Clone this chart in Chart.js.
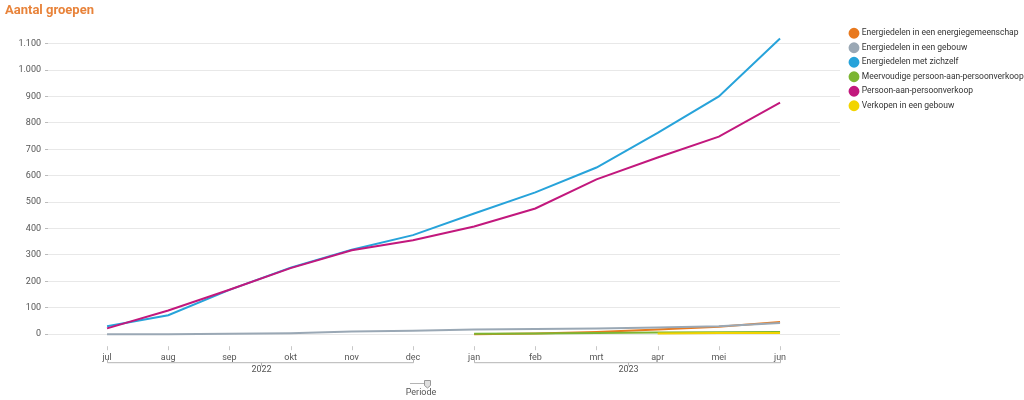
<!DOCTYPE html>
<html>
<head>
<meta charset="utf-8">
<script src="https://cdn.jsdelivr.net/npm/chart.js@4.4.1/dist/chart.umd.min.js"></script>
<style>
  html, body { margin: 0; padding: 0; background: #fff; }
  #wrap { width: 1024px; height: 400px; position: relative; }
</style>
</head>
<body>
<div id="wrap"><canvas id="groupChart"></canvas></div>
<script>
// months jul 2022 .. jun 2023
const months = ['jul', 'aug', 'sep', 'okt', 'nov', 'dec', 'jan', 'feb', 'mrt', 'apr', 'mei', 'jun'];
const years = ['2022', '2023'];
const yearStart = [0, 6];
const yearEnd = [5, 11];

const gemeenschap = [null, null, null, null, null, null, 0, 3, 8, 18, 28, 46];
const gebouw = [0, 0, 2, 4, 10, 13, 18, 20, 22, 25, 30, 42];
const zichzelf = [30, 72, 168, 252, 320, 375, 457, 537, 631, 762, 900, 1119];
const meervoudig = [null, null, null, null, null, null, 2, 3, 5, 6, 7, 8];
const persoon = [22, 90, 168, 250, 318, 356, 408, 476, 586, 669, 748, 877];
const verkopen = [null, null, null, null, null, null, null, null, null, 3, 5, 5];

const yTicks = [0, 100, 200, 300, 400, 500, 600, 700, 800, 900, 1000, 1100];

function pts(arr) {
    return arr.map((v, i) => ({ x: i, y: v }));
}

function fmt(v) {
    return v.toString().replace(/\B(?=(\d{3})+(?!\d))/g, '.');
}

// fixed legend width so the plot reaches x=840, items nudged right a bit
const legendWidth = {
    id: 'legendWidth',
    beforeInit(chart) {
        const lg = chart.legend;
        const origFit = lg.fit;
        const origDraw = lg.draw;
        lg.fit = function () {
            origFit.call(this);
            this.width = 184;
        };
        lg.draw = function () {
            const c = this.ctx;
            c.save();
            c.translate(4.5, 0);
            origDraw.call(this);
            c.restore();
        };
    }
};

// month ticks, year brackets and the "Periode" control under the x axis
const periodAxis = {
    id: 'periodAxis',
    afterDraw(chart) {
        const c = chart.ctx;
        const xs = chart.scales.x;
        const base = chart.chartArea.bottom;
        c.save();
        c.strokeStyle = '#c8c8c8';
        c.lineWidth = 1;
        months.forEach((m, i) => {
            const px = Math.round(xs.getPixelForValue(i)) + 0.5;
            c.beginPath();
            c.moveTo(px, base + 12);
            c.lineTo(px, base + 16);
            c.stroke();
        });
        c.fillStyle = '#555';
        c.font = '9px Roboto';
        c.textAlign = 'center';
        c.textBaseline = 'middle';
        years.forEach((y, k) => {
            const x1 = Math.round(xs.getPixelForValue(yearStart[k])) + 0.5;
            const x2 = Math.round(xs.getPixelForValue(yearEnd[k])) + 0.5;
            const mid = Math.round((x1 + x2) / 2) + 0.5;
            const ly = base + 28.5;
            c.strokeStyle = '#b4b4b4';
            c.beginPath();
            c.moveTo(x1, ly - 4);
            c.lineTo(x1, ly);
            c.lineTo(x2, ly);
            c.lineTo(x2, ly - 4);
            c.moveTo(mid, ly);
            c.lineTo(mid, ly + 3);
            c.stroke();
            c.fillText(y, mid, ly + 7);
        });
        // slider icon + label
        const cx = 421;
        c.strokeStyle = '#b4b4b4';
        c.beginPath();
        c.moveTo(cx - 11, 383.5);
        c.lineTo(cx + 3, 383.5);
        c.stroke();
        c.fillStyle = '#e0e0e0';
        c.strokeStyle = '#999';
        c.beginPath();
        c.moveTo(cx + 3.5, 380.5);
        c.lineTo(cx + 9.5, 380.5);
        c.lineTo(cx + 9.5, 385.5);
        c.lineTo(cx + 6.5, 388);
        c.lineTo(cx + 3.5, 385.5);
        c.closePath();
        c.fill();
        c.stroke();
        c.fillStyle = '#555';
        c.fillText('Periode', cx, 393);
        c.restore();
    }
};

// later series are drawn on top (lower order = on top)
function line(label, data, color, order) {
    return {
        label: label,
        data: pts(data),
        borderColor: color,
        backgroundColor: color,
        borderWidth: 2,
        pointRadius: 0,
        pointHoverRadius: 0,
        tension: 0,
        spanGaps: false,
        clip: false,
        order: order
    };
}

new Chart(document.getElementById('groupChart'), {
    type: 'line',
    data: {
        datasets: [
            line('Energiedelen in een energiegemeenschap', gemeenschap, '#e8791e', 5),
            line('Energiedelen in een gebouw', gebouw, '#9aa8b5', 4),
            line('Energiedelen met zichzelf', zichzelf, '#27a3da', 3),
            line('Meervoudige persoon-aan-persoonverkoop', meervoudig, '#7cb532', 2),
            line('Persoon-aan-persoonverkoop', persoon, '#c2187d', 1),
            line('Verkopen in een gebouw', verkopen, '#f2d400', 0)
        ]
    },
    options: {
        responsive: true,
        maintainAspectRatio: false,
        animation: false,
        layout: { padding: { left: 5, right: 0, top: 0, bottom: 19 } },
        scales: {
            x: {
                type: 'linear',
                min: -0.965,
                max: 11.98,
                border: { display: false },
                grid: { display: false, drawTicks: false },
                afterBuildTicks: (s) => { s.ticks = months.map((m, i) => ({ value: i })); },
                ticks: {
                    padding: 18,
                    autoSkip: false,
                    maxRotation: 0,
                    color: '#555',
                    font: { family: 'Roboto', size: 9 },
                    callback: (v) => months[v]
                }
            },
            y: {
                min: 0,
                max: 1100,
                border: { display: false },
                afterFit: (s) => { s.width = 43; },
                grid: { color: '#e8e8e8', tickColor: '#bbb', tickLength: 3, drawTicks: true },
                afterBuildTicks: (s) => { s.ticks = yTicks.map(v => ({ value: v })); },
                ticks: {
                    padding: 4,
                    color: '#555',
                    font: { family: 'Roboto', size: 9 },
                    callback: (v) => fmt(v)
                }
            }
        },
        plugins: {
            title: {
                display: true,
                text: 'Aantal groepen',
                align: 'start',
                color: '#e8833a',
                font: { family: 'Roboto', size: 13, weight: 'bold' },
                padding: { top: 3, bottom: 25 }
            },
            legend: {
                position: 'right',
                align: 'start',
                title: {
                    display: true,
                    text: ' ',
                    font: { size: 10 },
                    padding: { top: 5, bottom: 6 }
                },
                labels: {
                    usePointStyle: true,
                    pointStyle: 'circle',
                    boxWidth: 7,
                    boxHeight: 6.3,
                    padding: 6,
                    color: '#333',
                    font: { family: 'Roboto', size: 8.5 },
                    sort: (a, b) => a.datasetIndex - b.datasetIndex
                }
            },
            tooltip: { enabled: false }
        }
    },
    plugins: [legendWidth, periodAxis]
});
</script>
</body>
</html>
